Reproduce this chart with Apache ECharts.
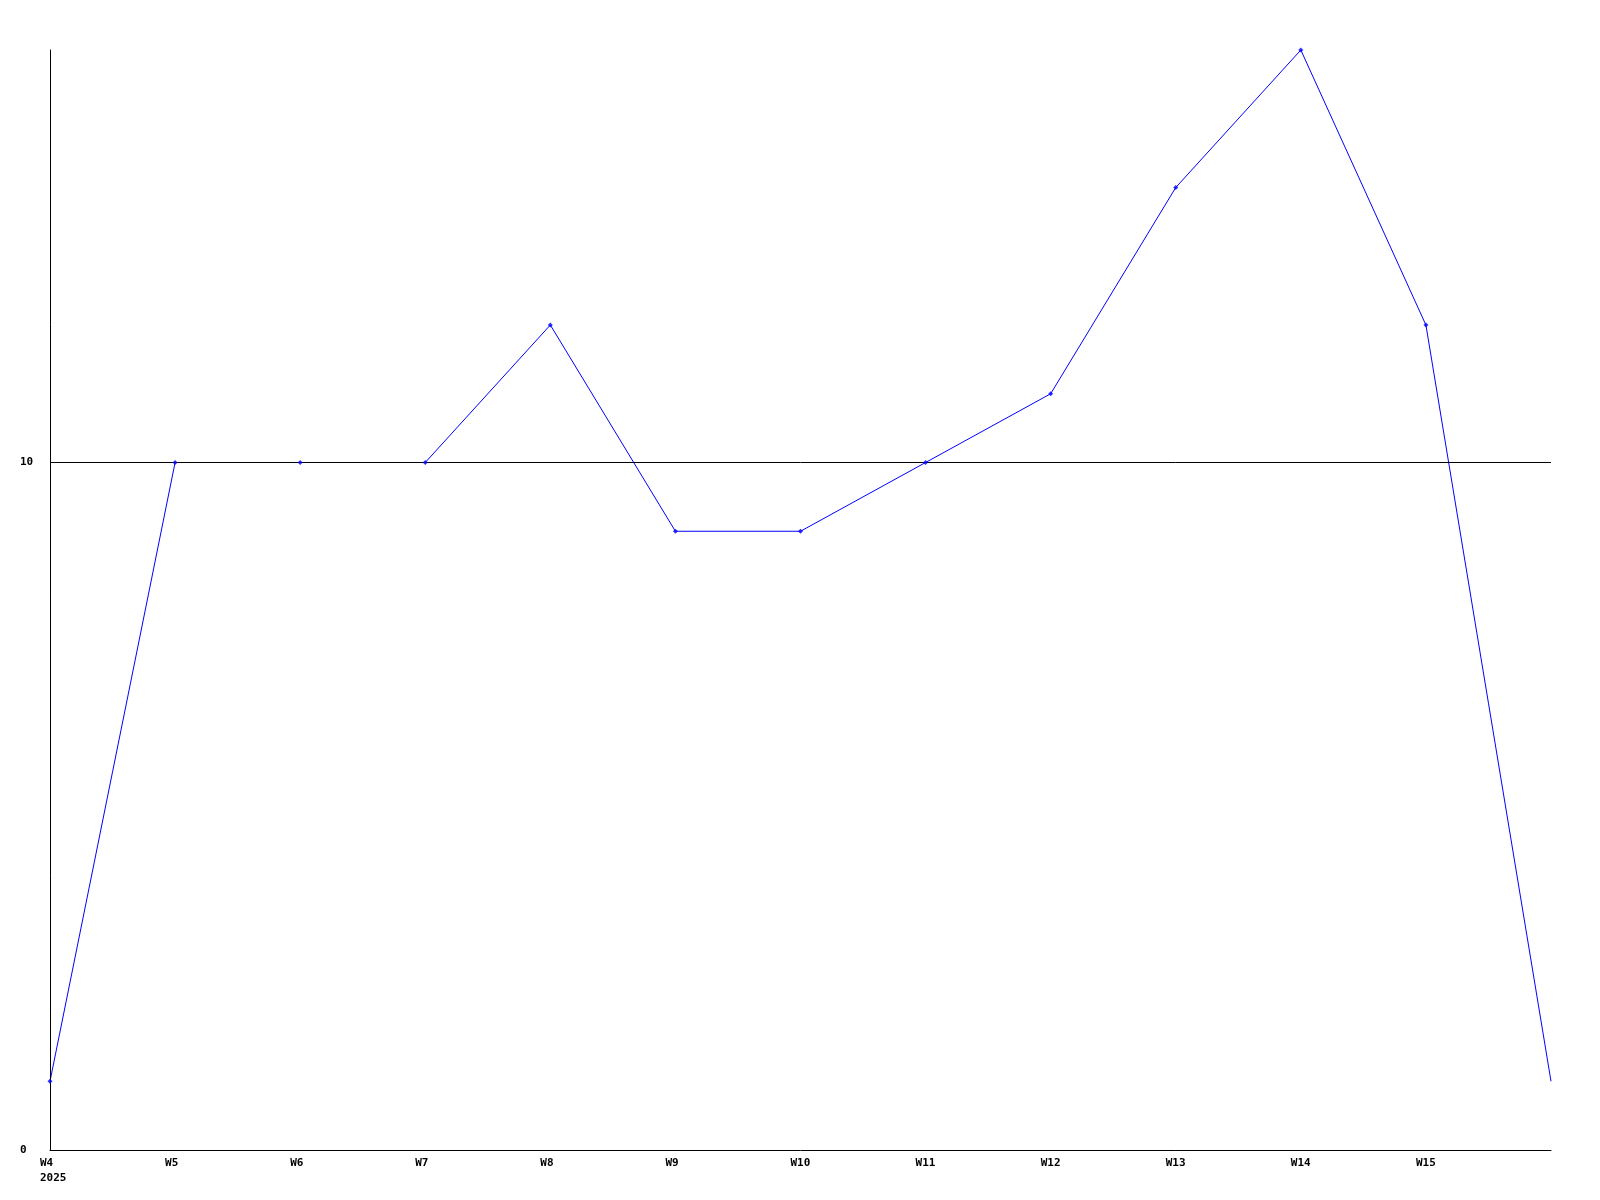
<!DOCTYPE html>
<html><head><meta charset="utf-8">
<script src="https://cdn.jsdelivr.net/npm/echarts@6/dist/echarts.min.js"></script>
<style>html,body{margin:0;padding:0;background:#fff}#c{width:1600px;height:1200px}</style>
</head><body><div id="c"></div>
<script>
const weeks = ['W4','W5','W6','W7','W8','W9','W10','W11','W12','W13','W14','W15','W16'];
const yearLabel = '2025';
const values = [1,10,10,10,12,9,9,10,11,14,16,12,1];
const yTicks = [0,10];

const chart = echarts.init(document.getElementById('c'), null, {renderer:'canvas'});
const font = {fontFamily:'DejaVu Sans Mono', fontWeight:'bold', fontSize:11, color:'#000'};
chart.setOption({
  animation:false,
  backgroundColor:'#fff',
  grid:{left:50,right:49,top:50,bottom:50,containLabel:false},
  xAxis:{
    type:'category', data:weeks, boundaryGap:false,
    axisLine:{show:true,lineStyle:{color:'#000',width:1}},
    axisTick:{show:false},
    splitLine:{show:false},
    axisLabel:{
      interval:0, margin:6, align:'center',
      formatter:(v,i)=> i===weeks.length-1 ? '' : (i===0 ? '{a|'+v+'}\n{a|'+yearLabel+'}' : '{a|'+v+'}'),
      rich:{a:Object.assign({width:20,align:'left',lineHeight:15},font)}
    }
  },
  yAxis:{
    type:'value', min:yTicks[0], max:16, interval:10, z:3,
    axisLine:{show:true,lineStyle:{color:'#000',width:1}},
    axisTick:{show:false},
    splitLine:{show:true,showMinLine:false,showMaxLine:false,lineStyle:{color:'#000',width:1}},
    axisLabel:Object.assign({align:'left',margin:30,showMaxLabel:false,
      formatter:v=> yTicks.includes(v)? String(v):''},font)
  },
  series:[{
    type:'line', data:values,
    lineStyle:{color:'#0000ff',width:1},
    itemStyle:{color:'#0000ff'},
    showSymbol:false, symbol:'none',
    z:1
  },{
    type:'scatter',
    data:values.map((v,i)=> i===values.length-1 ? {value:v, symbol:'none'} : v),
    itemStyle:{color:'#0000ff'},
    symbol:'diamond', symbolSize:5,
    z:5
  }]
});
</script></body></html>
